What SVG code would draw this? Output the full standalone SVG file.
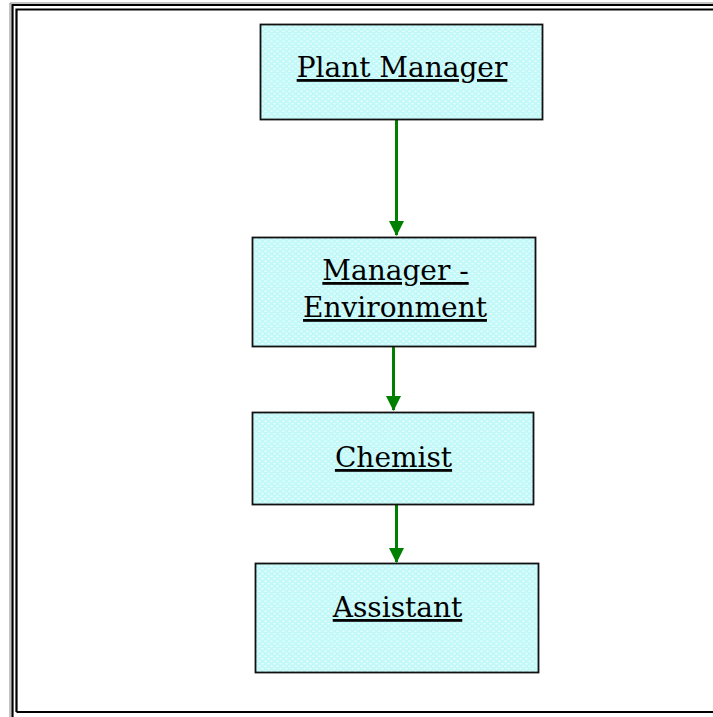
<svg xmlns="http://www.w3.org/2000/svg" width="713" height="717" viewBox="0 0 713 717">
<style>
.box{fill:url(#dots);stroke:#111;stroke-width:1.8}
.lbl{font-family:"DejaVu Serif","Liberation Serif",serif;font-size:28px;fill:#000;text-anchor:middle;text-decoration:underline}
.conn{stroke:#008000;stroke-width:3;fill:none}
.frame{fill:none;stroke:#000;stroke-width:2.2}
</style>
<defs>
<pattern id="dots" width="6" height="5" patternUnits="userSpaceOnUse">
<rect width="6" height="5" fill="#c2f8f8"/>
<ellipse cx="1.5" cy="1.2" rx="1.3" ry="0.8" fill="#ecfefe"/>
<ellipse cx="4.5" cy="3.7" rx="1.3" ry="0.8" fill="#ecfefe"/>
</pattern>
<marker id="arr" markerUnits="userSpaceOnUse" markerWidth="16" markerHeight="16" refX="14" refY="8" orient="auto">
<path d="M0,0.5 L15,8 L0,15.5 Z" fill="#008000"/>
</marker>
</defs>
<rect width="713" height="717" fill="#fff"/>
<g id="frame">
<path d="M10,717 V3 H713" fill="none" stroke="#888" stroke-width="1"/>
<path class="frame" d="M12.5,717 V5 H713"/>
<path class="frame" d="M16.5,712 V9.5 H713 M16.5,712 H713"/>
</g>
<g id="connectors">
<line class="conn" x1="396.5" y1="120" x2="396.5" y2="235" marker-end="url(#arr)"/>
<line class="conn" x1="393.5" y1="347" x2="393.5" y2="410" marker-end="url(#arr)"/>
<line class="conn" x1="396.5" y1="505" x2="396.5" y2="562" marker-end="url(#arr)"/>
</g>
<g id="plant-manager">
<rect class="box" x="260.5" y="24.5" width="282" height="95"/>
<text class="lbl" x="402" y="77">Plant Manager</text>
</g>
<g id="manager-environment">
<rect class="box" x="252.5" y="237.5" width="283" height="109"/>
<text class="lbl" x="395.5" y="280">Manager -</text>
<text class="lbl" x="395" y="317">Environment</text>
</g>
<g id="chemist">
<rect class="box" x="252.5" y="412.5" width="281" height="92"/>
<text class="lbl" x="393.5" y="467">Chemist</text>
</g>
<g id="assistant">
<rect class="box" x="255.5" y="563.5" width="283" height="109"/>
<text class="lbl" x="397.5" y="617">Assistant</text>
</g>
</svg>
